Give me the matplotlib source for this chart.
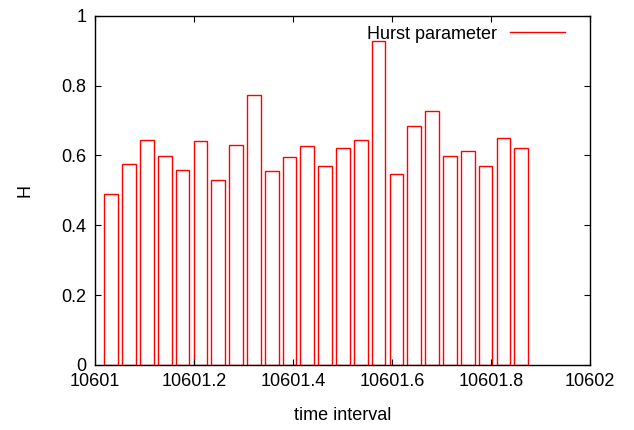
import numpy as np
import matplotlib.pyplot as plt
from matplotlib.lines import Line2D

plt.rcParams['font.family'] = ['Liberation Sans', 'DejaVu Sans']

# bar centres (time) and Hurst values
t = [10601.033, 10601.069, 10601.105, 10601.141, 10601.177, 10601.213,
     10601.249, 10601.285, 10601.321, 10601.357, 10601.393, 10601.429,
     10601.465, 10601.501, 10601.537, 10601.573, 10601.609, 10601.645,
     10601.681, 10601.717, 10601.753, 10601.789, 10601.825, 10601.861]
H = [0.489, 0.576, 0.643, 0.599, 0.557, 0.640, 0.529, 0.629, 0.772, 0.555,
     0.595, 0.626, 0.569, 0.620, 0.645, 0.928, 0.548, 0.685, 0.727, 0.597,
     0.612, 0.570, 0.650, 0.621]

xticks = [10601, 10601.2, 10601.4, 10601.6, 10601.8, 10602]
xticklabels = ['10601', '10601.2', '10601.4', '10601.6', '10601.8', '10602']
yticks = [0, 0.2, 0.4, 0.6, 0.8, 1]
yticklabels = ['0', '0.2', '0.4', '0.6', '0.8', '1']

fig = plt.figure(figsize=(6.34, 4.30), dpi=100)
ax = fig.add_axes([0.1498, 0.1512, 0.7808, 0.8123])

ax.bar(t, H, width=0.0277, fill=False, edgecolor='#ff0000', linewidth=1.0)

ax.set_xlim(10601, 10602)
ax.set_ylim(0, 1)
ax.set_xticks(xticks)
ax.set_xticklabels(xticklabels)
ax.set_yticks(yticks)
ax.set_yticklabels(yticklabels)
ax.tick_params(direction='in', length=4, width=0.8, top=True, right=True,
               labelsize=13, pad=6)
for s in ax.spines.values():
    s.set_linewidth(1.0)

ax.set_xlabel('time interval', fontsize=13, labelpad=12)
ax.set_ylabel('H', fontsize=13, labelpad=20)

h = Line2D([0], [0], color='#ff0000', linewidth=1.0)
ax.legend([h], ['Hurst parameter'], loc='upper right', frameon=False,
          markerfirst=False, fontsize=13, handlelength=3.05,
          handletextpad=0.72, borderaxespad=0,
          bbox_to_anchor=(0.9636, 0.992))

plt.savefig('out.png', dpi=100)
